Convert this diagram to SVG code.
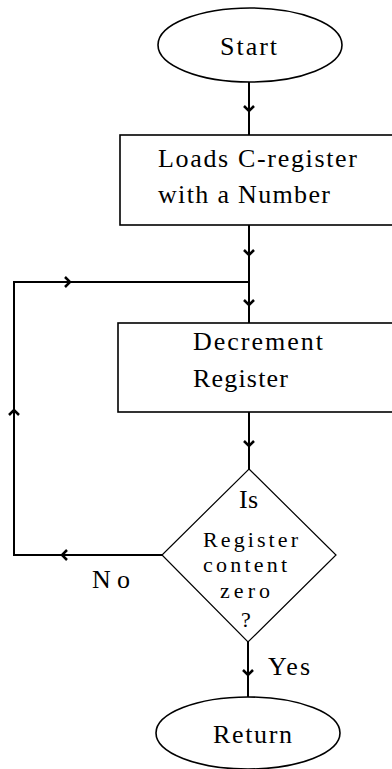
<svg xmlns="http://www.w3.org/2000/svg" width="392" height="769" viewBox="0 0 392 769">
<defs>
<style>
.shape{fill:#fff;stroke:#000;stroke-width:1.6}
.dia{fill:#fff;stroke:#000;stroke-width:1.2}
.ln{fill:none;stroke:#000;stroke-width:2}
.t{font-family:"Liberation Serif","Times New Roman",serif;font-size:26px;fill:#000}
.d{font-size:22px}
.c{text-anchor:middle}
</style>
<marker id="chev" viewBox="-7 -7 14 14" markerWidth="14" markerHeight="14" markerUnits="userSpaceOnUse" orient="auto" refX="0" refY="0">
<path d="M-5,-5 L0,0 L-5,5" fill="none" stroke="#000" stroke-width="2.5"/>
</marker>
</defs>
<rect width="392" height="769" fill="#fff"/>
<g id="connectors">
<path class="ln" d="M249,82 V135"/>
<path class="ln" d="M249,82 V111" marker-end="url(#chev)"/>
<path class="ln" d="M249,225 V323"/>
<path class="ln" d="M249,225 V255" marker-end="url(#chev)"/>
<path class="ln" d="M249,282 V305" marker-end="url(#chev)"/>
<path class="ln" d="M249,412 V469"/>
<path class="ln" d="M249,412 V446" marker-end="url(#chev)"/>
<path class="ln" d="M162,555 H14 V282 H249"/>
<path class="ln" d="M162,555 H62" marker-end="url(#chev)"/>
<path class="ln" d="M14,555 V410" marker-end="url(#chev)"/>
<path class="ln" d="M14,282 H70" marker-end="url(#chev)"/>
<path class="ln" d="M248,642 V697"/>
<path class="ln" d="M248,642 V675" marker-end="url(#chev)"/>
<text class="t" x="92" y="588" textLength="38" lengthAdjust="spacing">No</text>
<text class="t" x="268" y="675" textLength="42" lengthAdjust="spacing">Yes</text>
</g>
<g id="start">
<ellipse class="shape" cx="250" cy="45" rx="92" ry="37"/>
<text class="t" x="220" y="55" textLength="57" lengthAdjust="spacing">Start</text>
</g>
<g id="load">
<rect class="shape" x="120" y="135" width="290" height="90"/>
<text class="t" x="158" y="167" textLength="199" lengthAdjust="spacing">Loads C-register</text>
<text class="t" x="158" y="203" textLength="172" lengthAdjust="spacing">with a Number</text>
</g>
<g id="decrement">
<rect class="shape" x="118" y="323" width="290" height="89"/>
<text class="t" x="193" y="350" textLength="130" lengthAdjust="spacing">Decrement</text>
<text class="t" x="193" y="387" textLength="95" lengthAdjust="spacing">Register</text>
</g>
<g id="decision">
<polygon class="dia" points="249,469 336,555 248,642 162,555"/>
<text class="t" x="239" y="508" textLength="19" lengthAdjust="spacing">Is</text>
<text class="t d" x="203" y="547" textLength="95" lengthAdjust="spacing">Register</text>
<text class="t d" x="203" y="572" textLength="84" lengthAdjust="spacing">content</text>
<text class="t d" x="220" y="598" textLength="50" lengthAdjust="spacing">zero</text>
<text class="t d c" x="246" y="627">?</text>
</g>
<g id="return">
<ellipse class="shape" cx="248" cy="733" rx="92" ry="36"/>
<text class="t" x="213" y="743" textLength="79" lengthAdjust="spacing">Return</text>
</g>
</svg>
